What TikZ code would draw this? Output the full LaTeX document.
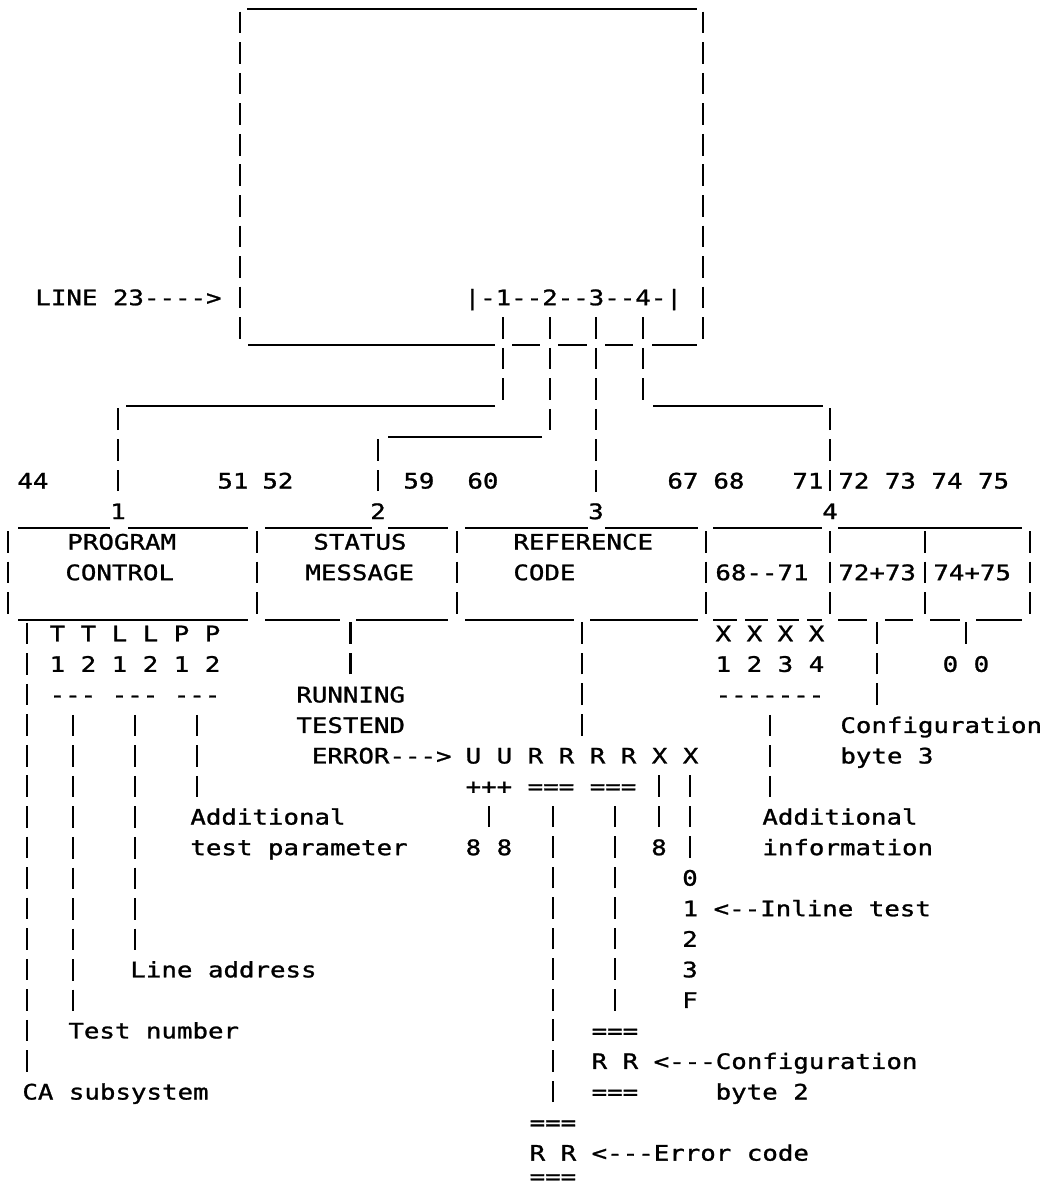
\documentclass[tikz,border=0pt]{standalone}
\usepackage{fontspec}
\newfontfamily\typew[FakeStretch=1.21,FakeBold=1.2]{DejaVu Sans Mono}
\usepackage{tikz}

% typewriter rows: centre, top, bottom, underscore line
\newcommand\rowc[1]{22.5+30.55*(#1)}
\newcommand\rowt[1]{22.5+30.55*(#1)-15.275}
\newcommand\rowb[1]{22.5+30.55*(#1)+15.275}
\newcommand\rowl[1]{22.5+30.55*(#1)+17}

\begin{document}
\begin{tikzpicture}[
  x=0.5pt, y=-0.5pt,
  cell/.style = {inner sep=0pt, text height=11.52pt, text depth=3.76pt,
                 font=\typew\fontsize{10.65pt}{12pt}\selectfont},
  lbl/.style  = {cell, anchor=west},
  hbar/.style = {line width=1pt},
  vbar/.style = {line width=1.25pt, dash pattern=on 10.8pt off 4.475pt,
                 dash phase=13.0375pt},
]
\useasboundingbox (0,0) rectangle (1041,1190);

%% ── Screen ─────────────────────────────────────────────────────────────────
\draw[hbar] (247,{\rowl{-1}}) -- (697,{\rowl{-1}});
\foreach \x in {240,703}
  \draw[vbar] (\x,{\rowt{0}}) -- (\x,{\rowb{10}});
\foreach \a/\b in {248/495,512/540,558/587,605/633,652/697}
  \draw[hbar] (\a,{\rowl{10}}) -- (\b,{\rowl{10}});

\node[lbl] (line23) at (35,{\rowc{9}})     {LINE 23---->};
\node[lbl] (strip)  at (464.25,{\rowc{9}}) {|-1--2--3--4-|};
\foreach \i/\x in {1/503,2/550,3/596,4/643}
  \coordinate (t\i) at (\x,{\rowb{9}});

%% ── Column numbers ─────────────────────────────────────────────────────────
\foreach \x/\t in {17/44,217/51,262/52,403/59,467/60,667/67,713/68,792/71}
  \node[lbl] (n\t) at (\x,{\rowc{15}}) {\t};
\node[lbl] (n72) at (838,{\rowc{15}}) {72 73 74 75};

%% ── Fields ─────────────────────────────────────────────────────────────────
\foreach \i/\x in {1/118,2/378,3/596,4/830}
  \node[cell] (f\i) at (\x,{\rowc{16}}) {\i};

\foreach \a/\b in {18/110,128/248,265/372,388/448,465/588,605/698,713/822,838/1022}
  \draw[hbar] (\a,{\rowl{16}}) -- (\b,{\rowl{16}});
\foreach \x in {8,257,457,706,830,925,1030}
  \draw[vbar] (\x,{\rowt{17}}) -- (\x,{\rowb{19}});
\foreach \a/\b in {18/248,265/340,356/448,465/574,590/698,713/737,745/768,
                   777/799,807/822,838/867,885/913,930/960,976/1022}
  \draw[hbar] (\a,{\rowl{19}}) -- (\b,{\rowl{19}});

\node[lbl] (prog1) at (67,{\rowc{17}})  {PROGRAM};
\node[lbl] (prog2) at (65,{\rowc{18}})  {CONTROL};
\node[lbl] (stat1) at (313,{\rowc{17}}) {STATUS};
\node[lbl] (stat2) at (305,{\rowc{18}}) {MESSAGE};
\node[lbl] (ref1)  at (513,{\rowc{17}}) {REFERENCE};
\node[lbl] (ref2)  at (513,{\rowc{18}}) {CODE};
\node[lbl] (xfld)  at (715,{\rowc{18}}) {68--71};
\node[lbl] (cb3)   at (838,{\rowc{18}}) {72+73};
\node[lbl] (cb4)   at (933,{\rowc{18}}) {74+75};

%% ── Buses from the screen ──────────────────────────────────────────────────
\draw[vbar] (t1) -- ++(0,{3*30.55});
\draw[hbar] (495,{\rowl{12}}) -- (126,{\rowl{12}});
\draw[vbar] (f1.north) -- ++(0,{-3*30.55});

\draw[vbar] (t2) -- ++(0,{4*30.55});
\draw[hbar] (542,{\rowl{13}}) -- (388,{\rowl{13}});
\draw[vbar] (f2.north) -- ++(0,{-2*30.55});

\draw[vbar] (t3) -- (f3.north);

\draw[vbar] (t4) -- ++(0,{3*30.55});
\draw[hbar] (653,{\rowl{12}}) -- (823,{\rowl{12}});
\draw[vbar] (f4.north) -- ++(0,{-3*30.55});

%% ── Program control ────────────────────────────────────────────────────────
\node[lbl] (tl1) at (49.25,{\rowc{20}}) {T T L L P P};
\node[lbl] (tl2) at (49.25,{\rowc{21}}) {1 2 1 2 1 2};
\node[lbl] (tl3) at (49.25,{\rowc{22}}) {--- --- ---};
\path (tl3.south west)
  ++(23.75,0) coordinate (dT)
  ++(62,0)    coordinate (dL)
  ++(62,0)    coordinate (dP);

\node[lbl] (addp1)    at (190,{\rowc{26}}) {Additional};
\node[lbl] (addp2)    at (190,{\rowc{27}}) {test parameter};
\node[lbl] (lineaddr) at (130,{\rowc{31}}) {Line address};
\node[lbl] (testno)   at (68,{\rowc{33}})  {Test number};
\node[lbl] (casub)    at (22,{\rowc{35}})  {CA subsystem};

\coordinate (dC) at (27,{\rowt{20}});
\draw[vbar] (dC) -- (dC |- casub.north);
\draw[vbar] (dT) -- (dT |- testno.north);
\draw[vbar] (dL) -- (dL |- lineaddr.north);
\draw[vbar] (dP) -- (dP |- addp1.north);

%% ── Status message ─────────────────────────────────────────────────────────
\node[lbl] (running) at (296,{\rowc{22}})   {RUNNING};
\node[lbl] (testend) at (296,{\rowc{23}})   {TESTEND};
\node[lbl] (error)   at (311.5,{\rowc{24}}) {ERROR--->};
\draw[vbar] (running.north) -- ++(0,{-2*30.55});

%% ── Reference code ─────────────────────────────────────────────────────────
\node[lbl] (codes) at (465.25,{\rowc{24}}) {U U R R R R X X};
\node[lbl] (marks) at (465.25,{\rowc{25}}) {+++ === ===};
\draw[vbar] (codes.north) -- ++(0,{-4*30.55});

\node[lbl]  (e8)  at (465.25,{\rowc{27}}) {8 8};
\node[cell] (x8)  at (659,{\rowc{27}})    {8};
\node[cell] (d0)  at (690,{\rowc{28}})    {0};
\node[lbl]  (d1)  at (682.25,{\rowc{29}}) {1 <--Inline test};
\node[cell] (d2)  at (690,{\rowc{30}})    {2};
\node[cell] (d3)  at (690,{\rowc{31}})    {3};
\node[cell] (dF)  at (690,{\rowc{32}})    {F};

\node[lbl] (eq1)   at (591.25,{\rowc{33}}) {===};
\node[lbl] (rr1)   at (591.25,{\rowc{34}}) {R R <---Configuration};
\node[lbl] (eq2)   at (591.25,{\rowc{35}}) {===};
\node[lbl] (byte2) at (715.25,{\rowc{35}}) {byte 2};
\node[lbl] (eq3)   at (529.25,{\rowc{36}}) {===};
\node[lbl] (rr2)   at (529.25,{\rowc{37}}) {R R <---Error code};
\node[lbl, text height=6pt, text depth=0pt, anchor=base west]
           (eq4)   at (529.25,1184) {===};

\draw[vbar] (e8.north)  -- ++(0,{-30.55});
\draw[vbar] (eq3.north) -- ++(0,{-10*30.55});
\draw[vbar] (eq1.north) -- ++(0,{-7*30.55});
\draw[vbar] (x8.north)  -- ++(0,{-2*30.55});
\draw[vbar] (d0.north)  -- ++(0,{-3*30.55});

%% ── Bytes 68--75 ───────────────────────────────────────────────────────────
\node[lbl] (xa) at (715.25,{\rowc{20}}) {X X X X};
\node[lbl] (xb) at (715.25,{\rowc{21}}) {1 2 3 4};
\node[lbl] (xd) at (715.25,{\rowc{22}}) {-------};
\node[lbl] (addi1) at (762,{\rowc{26}}) {Additional};
\node[lbl] (addi2) at (762,{\rowc{27}}) {information};
\draw[vbar] (xd.south) -- ++(0,{3*30.55});

\node[lbl] (conf)  at (840,{\rowc{23}}) {Configuration};
\node[lbl] (byte3) at (840,{\rowc{24}}) {byte 3};
\draw[vbar] (conf.north -| cb3) -- ++(0,{-3*30.55});

\node[lbl] (oo) at (942.25,{\rowc{21}}) {0 0};
\draw[vbar] (oo.north) -- ++(0,{-30.55});

\end{tikzpicture}
\end{document}
